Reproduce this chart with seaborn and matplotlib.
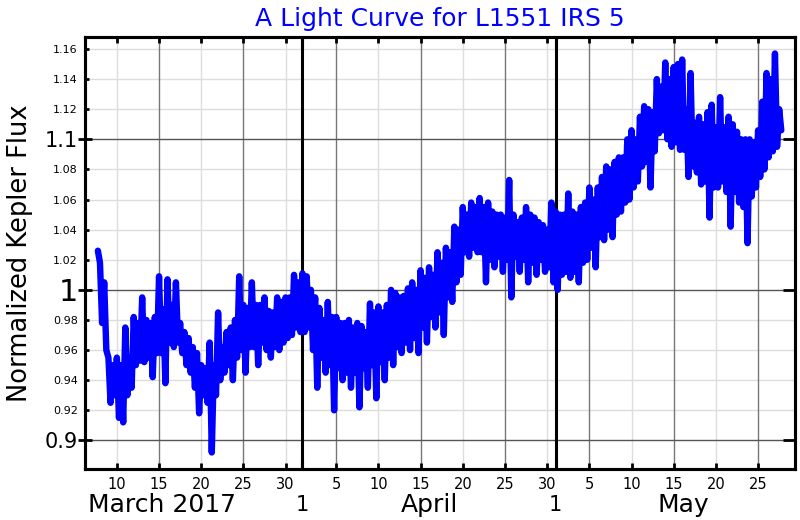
import numpy as np
import pandas as pd
import seaborn as sns
import matplotlib
matplotlib.use("Agg")
import matplotlib.pyplot as plt

# ---- data (day of March 2017; April 1 = 32, May 1 = 62) ----
first_day = 7.75
sample_step = 0.25
flux = [
    1.026,
    1.018, 0.978, 1.005, 0.960,   # Mar 8
    0.955, 0.925, 0.950, 0.930,   # 9
    0.955, 0.915, 0.950, 0.912,   # 10
    0.975, 0.930, 0.955, 0.935,   # 11
    0.982, 0.950, 0.978, 0.953,   # 12
    0.995, 0.952, 0.980, 0.955,   # 13
    0.978, 0.942, 0.982, 0.958,   # 14
    1.009, 0.958, 0.987, 0.938,   # 15
    1.007, 0.965, 0.990, 0.962,   # 16
    1.005, 0.965, 0.978, 0.958,   # 17
    0.972, 0.950, 0.968, 0.945,   # 18
    0.962, 0.935, 0.958, 0.918,   # 19
    0.950, 0.930, 0.948, 0.925,   # 20
    0.965, 0.892, 0.950, 0.930,   # 21
    0.985, 0.940, 0.962, 0.945,   # 22
    0.972, 0.950, 0.975, 0.940,   # 23
    0.980, 0.955, 1.009, 0.960,   # 24
    0.990, 0.945, 0.988, 0.962,   # 25
    1.005, 0.962, 0.990, 0.950,   # 26
    0.990, 0.965, 0.995, 0.960,   # 27
    0.986, 0.955, 0.985, 0.962,   # 28
    0.995, 0.960, 0.992, 0.965,   # 29
    0.995, 0.968, 0.995, 0.970,   # 30
    1.010, 0.975, 1.005, 0.972,   # 31
    1.011, 0.972, 1.009, 0.975,   # Apr 1
    1.000, 0.960, 0.995, 0.935,   # 2
    0.988, 0.955, 0.980, 0.945,   # 3
    0.992, 0.950, 0.982, 0.920,   # 4
    0.982, 0.948, 0.978, 0.940,   # 5
    0.978, 0.945, 0.980, 0.935,   # 6
    0.975, 0.945, 0.978, 0.922,   # 7
    0.976, 0.948, 0.972, 0.935,   # 8
    0.991, 0.950, 0.985, 0.928,   # 9
    0.989, 0.952, 0.985, 0.940,   # 10
    0.990, 0.955, 1.000, 0.950,   # 11
    0.998, 0.962, 0.995, 0.958,   # 12
    0.996, 0.965, 1.001, 0.960,   # 13
    1.005, 0.968, 1.000, 0.958,   # 14
    1.013, 0.975, 1.008, 0.965,   # 15
    1.015, 0.982, 1.010, 0.975,   # 16
    1.025, 0.985, 1.018, 0.970,   # 17
    1.028, 0.995, 1.025, 0.992,   # 18
    1.042, 1.005, 1.040, 1.010,   # 19
    1.055, 1.025, 1.050, 1.022,   # 20
    1.058, 1.028, 1.055, 1.025,   # 21
    1.061, 1.025, 1.055, 1.005,   # 22
    1.058, 1.020, 1.052, 1.015,   # 23
    1.050, 1.022, 1.050, 1.012,   # 24
    1.048, 1.020, 1.073, 0.995,   # 25
    1.050, 1.022, 1.045, 1.012,   # 26
    1.048, 1.020, 1.055, 1.005,   # 27
    1.050, 1.018, 1.048, 1.010,   # 28
    1.045, 1.020, 1.043, 1.012,   # 29
    1.040, 1.015, 1.058, 1.005,   # 30
    1.052, 1.000, 1.050, 1.010,   # May 1
    1.050, 1.012, 1.064, 1.008,   # 2
    1.052, 1.012, 1.050, 1.005,   # 3
    1.055, 1.018, 1.058, 1.020,   # 4
    1.068, 1.028, 1.060, 1.015,   # 5
    1.068, 1.035, 1.075, 1.033,   # 6
    1.082, 1.040, 1.080, 1.035,   # 7
    1.085, 1.050, 1.088, 1.052,   # 8
    1.088, 1.058, 1.100, 1.060,   # 9
    1.106, 1.068, 1.100, 1.072,   # 10
    1.115, 1.082, 1.122, 1.085,   # 11
    1.120, 1.068, 1.118, 1.092,   # 12
    1.140, 1.104, 1.135, 1.106,   # 13
    1.151, 1.100, 1.140, 1.095,   # 14
    1.148, 1.098, 1.150, 1.093,   # 15
    1.153, 1.093, 1.120, 1.075,   # 16
    1.144, 1.082, 1.111, 1.078,   # 17
    1.115, 1.070, 1.110, 1.072,   # 18
    1.118, 1.048, 1.123, 1.068,   # 19
    1.108, 1.068, 1.128, 1.072,   # 20
    1.108, 1.065, 1.115, 1.042,   # 21
    1.110, 1.065, 1.105, 1.058,   # 22
    1.100, 1.055, 1.100, 1.031,   # 23
    1.100, 1.062, 1.098, 1.068,   # 24
    1.106, 1.075, 1.125, 1.080,   # 25
    1.144, 1.088, 1.140, 1.092,   # 26
    1.157, 1.095, 1.120, 1.106,   # 27
]
days = first_day + sample_step * np.arange(len(flux))

day_ticks = [10, 15, 20, 25, 30, 36, 41, 46, 51, 56, 61, 66, 71, 76, 81, 86]
day_labels = ["10", "15", "20", "25", "30", "5", "10", "15", "20", "25", "30",
              "5", "10", "15", "20", "25"]
dark_days = [15, 25, 36, 46, 56, 66, 76, 86]
light_days = [10, 20, 30, 41, 51, 61, 71, 81]
month_starts = [32, 62]
month_start_labels = ["1", "1"]
month_names = ["March 2017", "April", "May"]
month_name_days = [15.3, 47.0, 77.1]

y_major = [0.9, 1.0, 1.1]
y_major_labels = ["0.9", "1", "1.1"]
y_minor = [0.92, 0.94, 0.96, 0.98, 1.02, 1.04, 1.06, 1.08, 1.12, 1.14, 1.16]
y_minor_labels = ["0.92", "0.94", "0.96", "0.98", "1.02", "1.04", "1.06",
                  "1.08", "1.12", "1.14", "1.16"]

title = "A Light Curve for L1551 IRS 5"
ylabel = "Normalized Kepler Flux"

# ---- plot ----
sns.set_theme(style="white")
plt.rcParams["font.family"] = ["DejaVu Sans"]

fig = plt.figure(figsize=(8, 5.2), dpi=100)
ax = fig.add_axes([0.106, 0.098, 0.888, 0.831])

df = pd.DataFrame({"day": days, "flux": flux})

# grid
for d in light_days:
    ax.axvline(d, color="#dddddd", lw=1.0, zorder=0)
for y in y_minor:
    ax.axhline(y, color="#dddddd", lw=1.0, zorder=0)
for d in dark_days:
    ax.axvline(d, color="#777777", lw=1.0, zorder=0.5)
for y in y_major:
    ax.axhline(y, color="#555555", lw=1.0, zorder=0.5)
for d in month_starts:
    ax.axvline(d, color="black", lw=2.2, zorder=0.6)

sns.lineplot(data=df, x="day", y="flux", ax=ax, color="#0000ff",
             linewidth=4.6, estimator=None, sort=False, zorder=3,
             solid_joinstyle="round", solid_capstyle="round")

xlim = (6.2, 90.4)
ylim = (0.881, 1.168)
ax.set_xlim(*xlim)
ax.set_ylim(*ylim)

# x ticks
ax.set_xticks(day_ticks)
ax.set_xticklabels(day_labels)
ax.set_xticks(month_starts, minor=True)
ax.set_xticklabels(month_start_labels, minor=True)
ax.tick_params(axis="x", which="major", direction="in", length=4, width=2,
               labelsize=10.5, pad=6, top=True, bottom=True, colors="black")
ax.tick_params(axis="x", which="minor", direction="in", length=8, width=2.2,
               labelsize=15, pad=19, top=True, bottom=True, colors="black")

# y ticks (left side)
ax.set_yticks(y_major)
ax.set_yticklabels(y_major_labels)
ax.set_yticks(y_minor, minor=True)
ax.set_yticklabels(y_minor_labels, minor=True)
ax.tick_params(axis="y", which="major", direction="inout", length=10, width=2,
               labelsize=15, pad=0, left=True, right=False, colors="black")
ax.tick_params(axis="y", which="minor", direction="in", length=3, width=2,
               labelsize=8, pad=5, left=True, right=False, colors="black")
for lab in ax.get_yticklabels():
    if lab.get_text() == "1":
        lab.set_fontsize(22)

# right side major ticks pointing inward
ax_r = ax.twinx()
ax_r.set_ylim(*ylim)
ax_r.set_yticks(y_major)
ax_r.set_yticks([], minor=True)
ax_r.tick_params(axis="y", which="major", direction="in", length=9, width=2,
                 labelright=False, right=True, left=False, colors="black")
ax_r.grid(False)

for a in (ax, ax_r):
    for sp in a.spines.values():
        sp.set_visible(True)
        sp.set_color("black")
        sp.set_linewidth(2.2)

for name, d in zip(month_names, month_name_days):
    ax.text(d, -0.0995, name, transform=ax.get_xaxis_transform(),
            ha="center", va="baseline", fontsize=18, color="black")

ax.set_ylabel(ylabel, fontsize=18.5, color="black", labelpad=8)
ax.set_xlabel("")
ax.set_title(title, fontsize=18, color="#0000ff", pad=8)

fig.savefig("out.png", dpi=100)
